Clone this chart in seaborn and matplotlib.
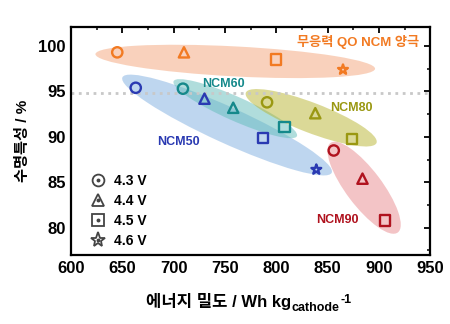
import matplotlib
matplotlib.use("Agg")
import matplotlib.pyplot as plt
import matplotlib.transforms as mtransforms
from matplotlib.patches import Ellipse
from matplotlib.lines import Line2D
import seaborn as sns
import pandas as pd

sns.set_theme(style="white")
plt.rcParams['font.family'] = ['Liberation Sans', 'Noto Sans CJK KR', 'DejaVu Sans']
plt.rcParams['font.weight'] = 'bold'
plt.rcParams['text.color'] = 'black'
plt.rcParams['axes.labelcolor'] = 'black'
plt.rcParams['xtick.color'] = 'black'
plt.rcParams['ytick.color'] = 'black'

# ---- data ----
groups = ["QO", "NCM50", "NCM60", "NCM80", "NCM90"]
qo_v = ["4.3 V", "4.4 V", "4.5 V", "4.6 V"]
qo_energy = [645, 710, 800, 865]
qo_ret = [99.3, 99.3, 98.5, 97.4]
ncm50_v = ["4.3 V", "4.4 V", "4.5 V", "4.6 V"]
ncm50_energy = [663, 730, 787, 839]
ncm50_ret = [95.4, 94.2, 89.9, 86.4]
ncm60_v = ["4.3 V", "4.4 V", "4.5 V"]
ncm60_energy = [709, 758, 808]
ncm60_ret = [95.3, 93.2, 91.1]
ncm80_v = ["4.3 V", "4.4 V", "4.5 V"]
ncm80_energy = [791, 838, 874]
ncm80_ret = [93.8, 92.6, 89.8]
ncm90_v = ["4.3 V", "4.4 V", "4.5 V"]
ncm90_energy = [856, 884, 906]
ncm90_ret = [88.5, 85.4, 80.8]
voltages = ["4.3 V", "4.4 V", "4.5 V", "4.6 V"]

colors = {"QO": "#F27A22", "NCM50": "#2A3AB2", "NCM60": "#15898B",
          "NCM80": "#9A9812", "NCM90": "#B0121E"}
fills = {"QO": "#F4A57A", "NCM50": "#7FAEE0", "NCM60": "#62BDBA",
         "NCM80": "#B8B530", "NCM90": "#E88A8E"}
markers = {"4.3 V": "o", "4.4 V": "^", "4.5 V": "s", "4.6 V": "*"}

rows = []
for g, vs, es, rs in [("QO", qo_v, qo_energy, qo_ret),
                      ("NCM50", ncm50_v, ncm50_energy, ncm50_ret),
                      ("NCM60", ncm60_v, ncm60_energy, ncm60_ret),
                      ("NCM80", ncm80_v, ncm80_energy, ncm80_ret),
                      ("NCM90", ncm90_v, ncm90_energy, ncm90_ret)]:
    for v, e, r in zip(vs, es, rs):
        rows.append({"group": g, "voltage": v, "energy": e, "ret": r})
df = pd.DataFrame(rows)

# ---- figure ----
fig = plt.figure(figsize=(4.5, 3.24), dpi=100)
ax = fig.add_axes([0.158, 0.213, 0.798, 0.704])
ax.set_xlim(600, 950)
ax.set_ylim(77, 102.1)

# shaded ellipses (center in data, size in inches, angle in degrees)
ell = [("QO", 760, 98.3, 2.80, 0.30, -3),
       ("NCM50", 752, 91.3, 2.30, 0.36, -24.5),
       ("NCM60", 760, 93.1, 1.35, 0.24, -24),
       ("NCM80", 834, 92.1, 1.40, 0.30, -21),
       ("NCM90", 885.6, 84.4, 1.12, 0.36, -53)]
for g, cx, cy, w, h, a in ell:
    tr = fig.dpi_scale_trans + mtransforms.ScaledTranslation(cx, cy, ax.transData)
    e = Ellipse((0, 0), w, h, angle=a, transform=tr, facecolor=fills[g],
                alpha=0.5, edgecolor='none', zorder=1)
    ax.add_patch(e)

ax.axhline(94.85, color='#c8c8c8', lw=2, ls=':', zorder=1.5)

for g in groups:
    sub = df[df.group == g]
    sns.scatterplot(data=sub, x="energy", y="ret", style="voltage", markers=markers,
                    color=colors[g], s=55, ax=ax, legend=False, zorder=3)
    coll = ax.collections[-1]
    coll.set_facecolors('none')
    coll.set_edgecolors(colors[g])
    coll.set_linewidths(1.7)

# labels
ax.text(939, 100.4, "무응력 QO NCM 양극", color=colors["QO"], fontsize=9.5,
        fontweight='bold', ha='right', va='center')
ax.text(748, 95.8, "NCM60", color=colors["NCM60"], fontsize=9, fontweight='bold', ha='center', va='center')
ax.text(873, 93.2, "NCM80", color=colors["NCM80"], fontsize=9, fontweight='bold', ha='center', va='center')
ax.text(705, 89.45, "NCM50", color=colors["NCM50"], fontsize=9, fontweight='bold', ha='center', va='center')
ax.text(860, 80.8, "NCM90", color=colors["NCM90"], fontsize=9, fontweight='bold', ha='center', va='center')

# legend
handles = []
for v in voltages:
    h1 = Line2D([], [], ls='none', marker=markers[v], markersize=8.5 if v != "4.6 V" else 11,
                markerfacecolor='none', markeredgecolor='#444444', markeredgewidth=1.3)
    h2 = Line2D([], [], ls='none', marker='o', markersize=1.8, color='#444444')
    handles.append((h1, h2))
leg = ax.legend(handles, voltages, loc='lower left', bbox_to_anchor=(0.02, -0.01),
                frameon=False, prop={'weight': 'bold', 'size': 10}, handletextpad=0.35,
                labelspacing=0.42, handlelength=1.5, borderaxespad=0.3)

# axes styling
ax.set_xticks(range(600, 951, 50))
ax.set_yticks(range(80, 101, 5))
ax.set_xticks(range(600, 951, 25), minor=True)
ax.set_yticks([77.5 + 2.5 * i for i in range(10)], minor=True)
ax.tick_params(which='both', direction='in', top=True, right=True, color='black')
ax.tick_params(which='major', length=4, width=1.3, labelsize=12, pad=4, labelcolor='black')
ax.tick_params(which='minor', length=2.5, width=1.1)
for lab in ax.get_xticklabels() + ax.get_yticklabels():
    lab.set_fontweight('bold')
for s in ax.spines.values():
    s.set_linewidth(1.6)
    s.set_color('black')

ax.set_ylabel("수명특성 / %", fontsize=11, fontweight='bold', labelpad=6, color='black')
xl = ax.set_xlabel("에너지 밀도 / Wh kg", fontsize=12, fontweight='bold', color='black')
ax.xaxis.set_label_coords(0.41, -0.165)
fig.canvas.draw()
t2 = ax.annotate("cathode", xy=(1, 0), xycoords=xl, xytext=(0.5, -3),
                 textcoords='offset points', ha='left', va='bottom',
                 fontsize=9, fontweight='bold', annotation_clip=False)
ax.annotate("-1", xy=(1, 1), xycoords=t2, xytext=(1, -3),
            textcoords='offset points', ha='left', va='bottom',
            fontsize=9, fontweight='bold', annotation_clip=False)

fig.savefig("out.png", dpi=100)
